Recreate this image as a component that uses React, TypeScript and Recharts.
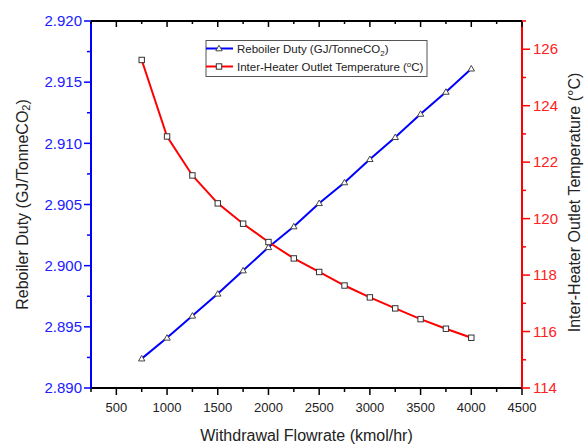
import { LineChart, Line, XAxis, YAxis } from "recharts";

const FLOWRATE = [750, 1000, 1250, 1500, 1750, 2000, 2250, 2500, 2750, 3000, 3250, 3500, 3750, 4000];
const REBOILER_DUTY = [
  2.8924, 2.8941, 2.8959, 2.8977, 2.8996, 2.9015, 2.9032, 2.9051, 2.9068, 2.9087, 2.9105, 2.9124,
  2.9142, 2.9161,
];
const OUTLET_TEMP = [
  125.62, 122.91, 121.53, 120.54, 119.82, 119.17, 118.59, 118.11, 117.63, 117.21, 116.82, 116.44,
  116.1, 115.78,
];

const X_TICKS = [
  250, 500, 750, 1000, 1250, 1500, 1750, 2000, 2250, 2500, 2750, 3000, 3250, 3500, 3750, 4000, 4250,
  4500,
];
const LEFT_TICKS = [
  2.89, 2.8925, 2.895, 2.8975, 2.9, 2.9025, 2.905, 2.9075, 2.91, 2.9125, 2.915, 2.9175, 2.92,
];
const RIGHT_TICKS = [114, 115, 116, 117, 118, 119, 120, 121, 122, 123, 124, 125, 126, 127];

const FONT = '"Liberation Sans", Arial, sans-serif';
const BLUE = "#0000ff";
const RED = "#ff0000";

const data = FLOWRATE.map((f, i) => ({
  flow: f,
  duty: REBOILER_DUTY[i],
  temp: OUTLET_TEMP[i],
}));

const isStep = (v: number, step: number) => Math.abs(v / step - Math.round(v / step)) < 1e-6;

function BottomTick(props: any) {
  const { x, y, payload } = props;
  const major = isStep(payload.value, 500) && payload.value !== 250;
  return (
    <g>
      <line x1={x} x2={x} y1={y} y2={y + (major ? 7 : 4)} stroke="#000" strokeWidth={1.5} />
      {major && (
        <text x={x} y={y + 19} textAnchor="middle" dy="0.35em" fontSize={13} fill="#222" fontFamily={FONT}>
          {payload.value}
        </text>
      )}
    </g>
  );
}

function TopTick(props: any) {
  const { x, y, payload } = props;
  const major = isStep(payload.value, 500);
  return <line x1={x} x2={x} y1={y} y2={y + (major ? 6 : 3)} stroke="#000" strokeWidth={1.5} />;
}

function LeftTick(props: any) {
  const { x, y, payload } = props;
  const major = isStep(payload.value, 0.005);
  return (
    <g>
      <line x1={x - (major ? 7 : 4)} x2={x} y1={y} y2={y} stroke={BLUE} strokeWidth={1.5} />
      {major && (
        <text x={x - 9} y={y} textAnchor="end" dy="0.35em" fontSize={15} fill="#2020ff" fontFamily={FONT}>
          {payload.value.toFixed(3)}
        </text>
      )}
    </g>
  );
}

function RightTick(props: any) {
  const { x, y, payload } = props;
  const major = isStep(payload.value, 2);
  return (
    <g>
      <line x1={x} x2={x + (major ? 8 : 4)} y1={y} y2={y} stroke={RED} strokeWidth={1.5} />
      {major && (
        <text x={x + 11} y={y} textAnchor="start" dy="0.35em" fontSize={15} fill="#ff2020" fontFamily={FONT}>
          {payload.value}
        </text>
      )}
    </g>
  );
}

function TriangleDot(props: any) {
  const { cx, cy } = props;
  if (cx == null || cy == null) return null;
  return (
    <path
      d={`M${cx},${cy - 3.2} L${cx + 3.2},${cy + 2.3} L${cx - 3.2},${cy + 2.3} Z`}
      fill="#fff"
      stroke="#444"
      strokeWidth={1}
    />
  );
}

function SquareDot(props: any) {
  const { cx, cy } = props;
  if (cx == null || cy == null) return null;
  return <rect x={cx - 2.7} y={cy - 2.7} width={5.4} height={5.4} fill="#fff" stroke="#333" strokeWidth={1} />;
}

const leftLabel = (props: any) => {
  const vb = props.viewBox;
  const cx = vb.x + 22;
  const cy = vb.y + vb.height / 2;
  return (
    <text
      x={cx}
      y={cy}
      transform={`rotate(-90, ${cx}, ${cy})`}
      textAnchor="middle"
      dominantBaseline="central"
      fontSize={16}
      fill="#222"
      fontFamily={FONT}
    >
      Reboiler Duty (GJ/TonneCO
      <tspan dy={4} fontSize={11}>
        2
      </tspan>
      <tspan dy={-4}>)</tspan>
    </text>
  );
};

const rightLabel = (props: any) => {
  const vb = props.viewBox;
  const cx = vb.x + 52;
  const cy = vb.y + vb.height / 2 - 2;
  return (
    <text
      x={cx}
      y={cy}
      transform={`rotate(-90, ${cx}, ${cy})`}
      textAnchor="middle"
      dominantBaseline="central"
      fontSize={16}
      fill="#222"
      fontFamily={FONT}
    >
      Inter-Heater Outlet Temperature (°C)
    </text>
  );
};

const bottomLabel = (props: any) => {
  const vb = props.viewBox;
  return (
    <text
      x={vb.x + vb.width / 2}
      y={vb.y + 47}
      textAnchor="middle"
      dominantBaseline="central"
      fontSize={16}
      fill="#222"
      fontFamily={FONT}
    >
      Withdrawal Flowrate (kmol/hr)
    </text>
  );
};

function LegendBox() {
  return (
    <svg
      width={223}
      height={38}
      style={{ position: "absolute", left: 205, top: 40 }}
      fontFamily={FONT}
    >
      <rect x={1} y={0.5} width={221} height={36} fill="#fff" stroke="#555" strokeWidth={1} />
      <line x1={1} x2={28} y1={8.5} y2={8.5} stroke={BLUE} strokeWidth={2} />
      <TriangleDot cx={14} cy={8.5} />
      <text x={32} y={8.5} dy="0.35em" fontSize={11.5} fill="#222">
        Reboiler Duty (GJ/TonneCO
        <tspan dy={3} fontSize={8}>
          2
        </tspan>
        <tspan dy={-3}>)</tspan>
      </text>
      <line x1={1} x2={28} y1={26.5} y2={26.5} stroke={RED} strokeWidth={2} />
      <SquareDot cx={14} cy={26.5} />
      <text x={32} y={26.5} dy="0.35em" fontSize={11.5} fill="#222">
        Inter-Heater Outlet Temperature (
        <tspan dy={-4} fontSize={8}>
          o
        </tspan>
        <tspan dy={4}>C)</tspan>
      </text>
    </svg>
  );
}

export default function App() {
  return (
    <div
      style={{
        position: "absolute",
        left: 0,
        top: 0,
        width: 584,
        height: 446,
        background: "#fff",
        fontFamily: FONT,
      }}
    >
      <LineChart width={584} height={446} data={data} margin={{ top: 20, right: 0, bottom: 0, left: 0 }}>
        <XAxis
          xAxisId="bottom"
          dataKey="flow"
          type="number"
          domain={[250, 4500]}
          ticks={X_TICKS}
          interval={0}
          height={58}
          tickSize={0}
          tickMargin={0}
          tickLine={false}
          axisLine={{ stroke: "#000", strokeWidth: 2 }}
          tick={<BottomTick />}
          label={bottomLabel}
        />
        <XAxis
          xAxisId="top"
          orientation="top"
          dataKey="flow"
          type="number"
          domain={[250, 4500]}
          ticks={X_TICKS}
          interval={0}
          height={1}
          tickSize={0}
          tickMargin={0}
          tickLine={false}
          axisLine={{ stroke: "#000", strokeWidth: 2 }}
          tick={<TopTick />}
        />
        <YAxis
          yAxisId="left"
          orientation="left"
          type="number"
          domain={[2.89, 2.92]}
          ticks={LEFT_TICKS}
          interval={0}
          width={91}
          tickSize={0}
          tickMargin={0}
          tickLine={false}
          axisLine={{ stroke: BLUE, strokeWidth: 2 }}
          tick={<LeftTick />}
          label={leftLabel}
        />
        <YAxis
          yAxisId="right"
          orientation="right"
          type="number"
          domain={[114, 127]}
          ticks={RIGHT_TICKS}
          interval={0}
          width={62}
          tickSize={0}
          tickMargin={0}
          tickLine={false}
          axisLine={{ stroke: RED, strokeWidth: 2 }}
          tick={<RightTick />}
          label={rightLabel}
        />
        <Line
          xAxisId="bottom"
          yAxisId="left"
          type="linear"
          dataKey="duty"
          stroke={BLUE}
          strokeWidth={2}
          dot={<TriangleDot />}
          activeDot={false}
          isAnimationActive={false}
        />
        <Line
          xAxisId="top"
          yAxisId="right"
          type="linear"
          dataKey="temp"
          stroke={RED}
          strokeWidth={2}
          dot={<SquareDot />}
          activeDot={false}
          isAnimationActive={false}
        />
      </LineChart>
      <div
        style={{ position: "absolute", left: 91, top: 20, width: 431, height: 2, background: "#000" }}
      />
      <LegendBox />
    </div>
  );
}
